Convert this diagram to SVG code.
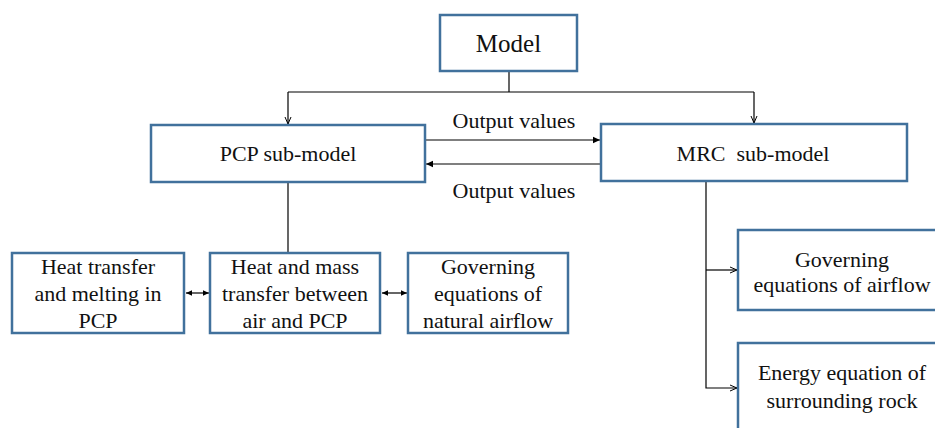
<svg xmlns="http://www.w3.org/2000/svg" width="935" height="428" viewBox="0 0 935 428" font-family="'Liberation Serif', 'DejaVu Serif', serif">
  <defs>
    <marker id="arr" markerWidth="8" markerHeight="8" refX="7" refY="4" orient="auto" markerUnits="userSpaceOnUse">
      <path d="M0,0.8 L7,4 L0,7.2 Z" fill="#000"/>
    </marker>
    <marker id="arrSmall" markerWidth="7" markerHeight="7" refX="6" refY="3.5" orient="auto-start-reverse" markerUnits="userSpaceOnUse">
      <path d="M0,0.8 L6,3.5 L0,6.2 Z" fill="#000"/>
    </marker>
    <marker id="arrOpen" markerWidth="8" markerHeight="8" refX="7" refY="4" orient="auto-start-reverse" markerUnits="userSpaceOnUse">
      <path d="M0,1 L7,4 L0,7" fill="none" stroke="#000" stroke-width="1"/>
    </marker>
    <style>
      .box { fill: #fff; stroke: #41719c; stroke-width: 2.5; }
      .lbl { font-size: 22px; fill: #111; text-anchor: middle; }
      .ln { stroke: #000; stroke-width: 1.2; fill: none; }
    </style>
  </defs>
  <rect width="935" height="428" fill="#fff"/>

  <g id="connectors">
    <path class="ln" d="M509,71 V92"/>
    <path class="ln" d="M288,92 H754"/>
    <path class="ln" d="M288,92 V124" marker-end="url(#arrOpen)"/>
    <path class="ln" d="M754,92 V123" marker-end="url(#arrOpen)"/>
    <path class="ln" d="M425,140 H600" marker-end="url(#arr)"/>
    <path class="ln" d="M601,164 H426" marker-end="url(#arr)"/>
    <path class="ln" d="M288,182 V253"/>
    <path class="ln" d="M186,293 H209" marker-start="url(#arrSmall)" marker-end="url(#arrSmall)"/>
    <path class="ln" d="M382,293 H407" marker-start="url(#arrSmall)" marker-end="url(#arrSmall)"/>
    <path class="ln" d="M706,181 V388 H737" marker-end="url(#arrOpen)"/>
    <path class="ln" d="M706,270 H737" marker-end="url(#arrOpen)"/>
    <text class="lbl" x="514" y="128">Output values</text>
    <text class="lbl" x="514" y="198">Output values</text>
  </g>

  <g id="model">
    <rect class="box" x="440" y="15" width="137" height="56"/>
    <text class="lbl" x="508.5" y="52" style="font-size:25px">Model</text>
  </g>

  <g id="pcp-submodel">
    <rect class="box" x="151" y="125" width="274" height="57"/>
    <text class="lbl" x="288" y="161">PCP sub-model</text>
  </g>

  <g id="mrc-submodel">
    <rect class="box" x="601" y="124" width="306" height="57"/>
    <text class="lbl" x="753" y="161" xml:space="preserve">MRC  sub-model</text>
  </g>

  <g id="heat-melting">
    <rect class="box" x="12" y="253" width="172" height="80"/>
    <text class="lbl" x="98" y="274">Heat transfer</text>
    <text class="lbl" x="98" y="301">and melting in</text>
    <text class="lbl" x="98" y="328">PCP</text>
  </g>

  <g id="heat-mass">
    <rect class="box" x="210" y="253" width="170" height="80"/>
    <text class="lbl" x="295" y="274">Heat and mass</text>
    <text class="lbl" x="295" y="301">transfer between</text>
    <text class="lbl" x="295" y="328">air and PCP</text>
  </g>

  <g id="natural-airflow">
    <rect class="box" x="408" y="253" width="160" height="80"/>
    <text class="lbl" x="488" y="274">Governing</text>
    <text class="lbl" x="488" y="301">equations of</text>
    <text class="lbl" x="488" y="328">natural airflow</text>
  </g>

  <g id="airflow">
    <rect class="box" x="738" y="230" width="200" height="80"/>
    <text class="lbl" x="842" y="267">Governing</text>
    <text class="lbl" x="842" y="292">equations of airflow</text>
  </g>

  <g id="surrounding-rock">
    <rect class="box" x="738" y="343" width="200" height="100"/>
    <text class="lbl" x="842" y="380">Energy equation of</text>
    <text class="lbl" x="842" y="408">surrounding rock</text>
  </g>
</svg>
